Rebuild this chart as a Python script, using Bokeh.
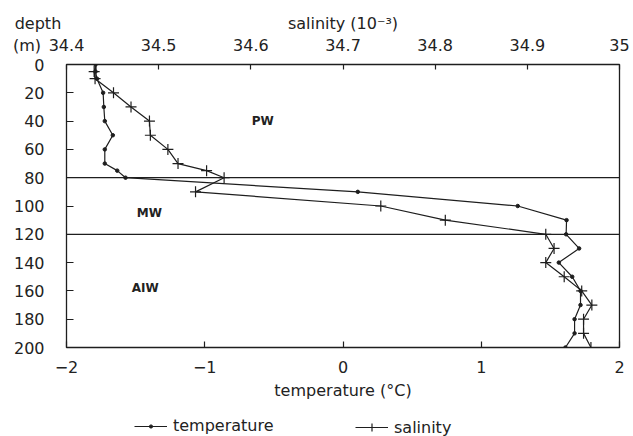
from bokeh.plotting import figure
from bokeh.layouts import column, row
from bokeh.models import (Range1d, LinearAxis, FixedTicker, CustomJSTickFormatter,
                          Span, Legend, LegendItem, ColumnDataSource)
from bokeh.embed import file_html
from bokeh.resources import INLINE
from bokeh.core.properties import value

# ---- data ----
depth_t = [0, 5, 10, 20, 30, 40, 50, 60, 70, 75, 80, 90, 100, 110, 120,
           130, 140, 150, 160, 170, 180, 190, 200]
temperature = [-1.79, -1.79, -1.78, -1.735, -1.73, -1.723, -1.665, -1.723, -1.723,
               -1.633, -1.573, 0.107, 1.264, 1.617, 1.614, 1.708, 1.561, 1.658,
               1.718, 1.718, 1.675, 1.675, 1.609]
depth_s = [0, 5, 10, 20, 30, 40, 50, 60, 70, 75, 80, 90, 100, 110, 120,
           130, 140, 150, 160, 170, 180, 190, 200]
salinity = [34.432, 34.430, 34.431, 34.451, 34.470, 34.490, 34.491, 34.510, 34.521,
            34.552, 34.571, 34.540, 34.741, 34.811, 34.920, 34.929, 34.920, 34.940,
            34.959, 34.970, 34.961, 34.961, 34.969]

temp_ticks = [-2, -1, 0, 1, 2]
sal_ticks = [34.4, 34.5, 34.6, 34.7, 34.8, 34.9, 35.0]
depth_ticks = [0, 20, 40, 60, 80, 100, 120, 140, 160, 180, 200]

layer_bounds = [80, 120]
mass_names = ["PW", "MW", "AIW"]
mass_temp = [-0.58, -1.40, -1.43]
mass_depth = [40, 105, 158]

FONT = "DejaVu Sans"
INK = "#1e1e1e"
TXT = "#222222"
SAL_LO, SAL_HI = 34.4, 35.0

# layout (pixels)
W = 633
LEFT, RIGHT = 66, 14
FRAME_W = W - LEFT - RIGHT
STRIP_H, LEG_H = 55, 20
MAIN_TOP = 64 - STRIP_H
MAIN_H = 436 - STRIP_H - LEG_H

def style_axis(ax, tick_in):
    ax.axis_line_color = None
    ax.major_tick_in = tick_in
    ax.major_tick_out = 0
    ax.major_tick_line_color = INK
    ax.major_tick_line_width = 1.2
    ax.minor_tick_line_color = None
    ax.major_label_text_font = FONT
    ax.major_label_text_font_size = "16px"
    ax.major_label_text_color = TXT
    ax.axis_label_text_font = FONT
    ax.axis_label_text_font_size = "16px"
    ax.axis_label_text_font_style = "normal"
    ax.axis_label_text_color = TXT

def bare(fig):
    fig.xgrid.visible = False
    fig.ygrid.visible = False
    fig.outline_line_color = None
    fig.background_fill_color = "white"
    fig.border_fill_color = "white"

# ---------- top strip: salinity scale, spanning the full width ----------
k = (SAL_HI - SAL_LO) / FRAME_W          # salinity units per pixel
strip = figure(width=W, height=STRIP_H,
               x_range=Range1d(SAL_LO - LEFT * k, SAL_HI + RIGHT * k), y_range=Range1d(0, 1),
               x_axis_location=None, y_axis_location=None,
               output_backend="svg", toolbar_location=None,
               min_border_left=0, min_border_right=0,
               min_border_top=STRIP_H - 1, min_border_bottom=0)
bare(strip)

unit_pos = SAL_LO - (LEFT - 26.5) * k     # where "(m)" sits, left of the frame
depth_pos = SAL_LO - (LEFT - 37.5) * k    # where "depth" sits
title_pos = (SAL_LO + SAL_HI) / 2

ax_a = LinearAxis(ticker=FixedTicker(ticks=[unit_pos] + sal_ticks))
ax_a.formatter = CustomJSTickFormatter(
    args=dict(lo=SAL_LO),
    code="if (tick < lo - 1e-9) return '(m)';"
         "const v = Math.round(tick*10)/10;"
         "return Number.isInteger(v) ? v.toFixed(0) : v.toFixed(1);")
style_axis(ax_a, 0)
ax_a.major_tick_line_color = None
ax_a.major_label_standoff = 0
strip.add_layout(ax_a, "above")

ax_b = LinearAxis(ticker=FixedTicker(ticks=[depth_pos, title_pos]))
ax_b.formatter = CustomJSTickFormatter(
    args=dict(lo=SAL_LO),
    code="return tick < lo ? 'depth' : 'salinity (10⁻³)';")
style_axis(ax_b, 0)
ax_b.major_tick_line_color = None
ax_b.major_label_standoff = 0
strip.add_layout(ax_b, "above")

# ---------- main plot ----------
p = figure(width=W, height=MAIN_H,
           x_range=Range1d(-2, 2), y_range=Range1d(200, 0),
           output_backend="svg", toolbar_location=None,
           min_border_left=LEFT, min_border_right=RIGHT,
           min_border_top=MAIN_TOP, min_border_bottom=MAIN_H - MAIN_TOP - 283)
p.extra_x_ranges = {"sal": Range1d(SAL_LO, SAL_HI)}
bare(p)
p.outline_line_color = INK
p.outline_line_width = 1.3

xb = p.below[0]
xb.ticker = FixedTicker(ticks=temp_ticks)
xb.axis_label = "temperature (°C)"
style_axis(xb, 6)
xb.major_label_standoff = 13
xb.axis_label_standoff = 5

yl = p.left[0]
yl.ticker = FixedTicker(ticks=depth_ticks)
style_axis(yl, 7)
yl.major_label_standoff = 22

# inward salinity ticks on the frame's top edge (their labels are in the strip)
xt_in = LinearAxis(x_range_name="sal", ticker=FixedTicker(ticks=sal_ticks),
                   formatter=CustomJSTickFormatter(code="return '';"))
style_axis(xt_in, 5)
xt_in.major_label_standoff = 0
p.add_layout(xt_in, "above")

for b in layer_bounds:
    p.add_layout(Span(location=b, dimension="width", line_color=INK, line_width=1.2))

msrc = ColumnDataSource(dict(x=mass_temp, y=mass_depth, t=mass_names))
p.text(x="x", y="y", text="t", source=msrc, text_font=value(FONT),
       text_font_style="bold", text_font_size="12px", text_color=TXT,
       text_align="center", text_baseline="middle")

tsrc = ColumnDataSource(dict(x=temperature, y=depth_t))
p.line("x", "y", source=tsrc, line_color=INK, line_width=1.2)
p.scatter("x", "y", source=tsrc, marker="circle", size=3.5, fill_color=INK, line_color=INK)

ssrc = ColumnDataSource(dict(x=salinity, y=depth_s))
p.line("x", "y", source=ssrc, x_range_name="sal", line_color=INK, line_width=1.2)
p.scatter("x", "y", source=ssrc, x_range_name="sal", marker="cross",
          size=11, line_color=INK, line_width=1.2)

# ---------- legend strip (its frame shares the main plot's left/right borders) ----------
lg = figure(width=W, height=LEG_H, x_range=Range1d(10, 11), y_range=Range1d(10, 11),
            x_axis_location=None, y_axis_location=None,
            output_backend="svg", toolbar_location=None,
            min_border_left=LEFT, min_border_right=RIGHT, min_border_top=0, min_border_bottom=0)
bare(lg)
# the profiles themselves, drawn off-range here, only supply the legend symbols
lsrc_t = ColumnDataSource(dict(x=temperature, y=depth_t))
lsrc_s = ColumnDataSource(dict(x=salinity, y=depth_s))
lt1 = lg.line("x", "y", source=lsrc_t, line_color=INK, line_width=1.2)
lt2 = lg.scatter("x", "y", source=lsrc_t, marker="circle", size=3.5,
                 fill_color=INK, line_color=INK)
ls1 = lg.line("x", "y", source=lsrc_s, line_color=INK, line_width=1.2)
ls2 = lg.scatter("x", "y", source=lsrc_s, marker="cross", size=11,
                 line_color=INK, line_width=1.2)

def add_legend(label, rends, x, y, gh):
    leg = Legend(items=[LegendItem(label=label, renderers=rends)],
                 location=(x, y), orientation="horizontal",
                 glyph_width=33, glyph_height=gh, label_height=16,
                 label_standoff=6, padding=0, margin=0, spacing=0,
                 border_line_alpha=0, background_fill_alpha=0,
                 label_text_font=FONT, label_text_font_size="16px",
                 label_text_color=TXT)
    lg.add_layout(leg, "center")

add_legend("temperature", [lt1, lt2], 134 - LEFT, 1, 8)
add_legend("salinity", [ls1, ls2], 355 - LEFT, -1, 20)

layout = column(row(strip, spacing=0), p, lg, spacing=0)
open("out.html", "w", encoding="utf-8").write(file_html(layout, INLINE))
